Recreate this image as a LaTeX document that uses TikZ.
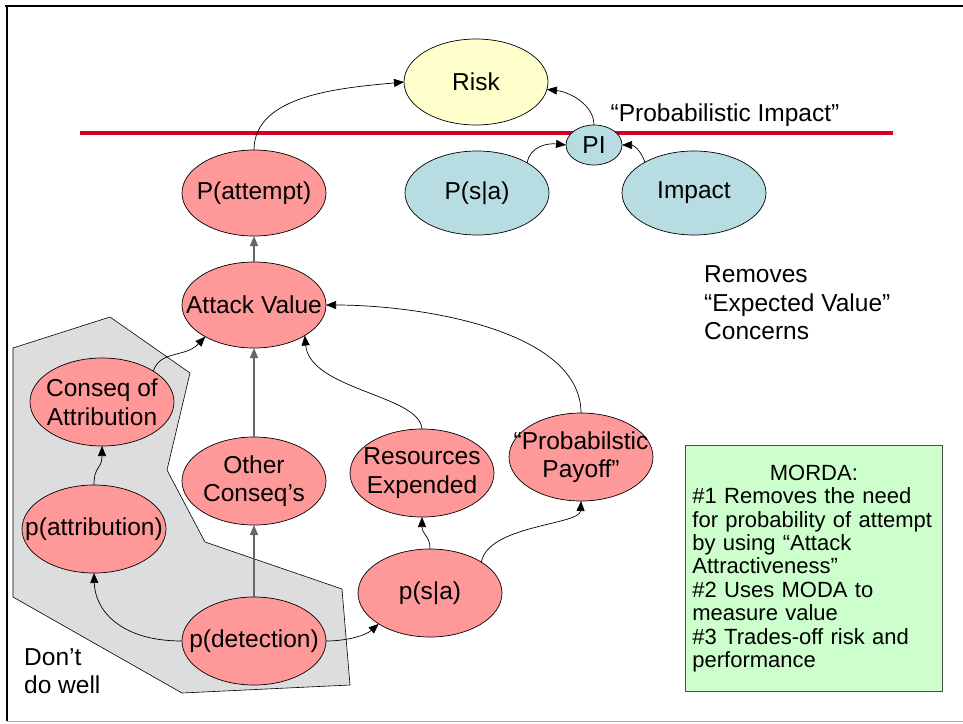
\documentclass[tikz,border=0pt]{standalone}
\usepackage{fontspec}
\setmainfont{Liberation Sans}
\usetikzlibrary{shapes.geometric,arrows.meta}
\definecolor{pinkfill}{RGB}{255,153,153}
\definecolor{tealfill}{RGB}{183,221,226}
\definecolor{yellowfill}{RGB}{255,255,204}
\definecolor{greyfill}{RGB}{221,221,221}
\definecolor{greenfill}{RGB}{204,255,204}
\definecolor{redline}{RGB}{210,0,40}
\newcommand{\nodefont}{\fontsize{24.5}{28.5}\selectfont}
\newcommand{\boxfont}{\fontsize{22}{23.4}\selectfont}
\tikzset{
  ell/.style={ellipse, draw=black, line width=0.7pt, minimum width=144pt, minimum height=88pt, inner sep=0pt, outer sep=0pt},
  rnode/.style={ell, fill=pinkfill},
  bnode/.style={ell, fill=tealfill},
  ynode/.style={ell, fill=yellowfill},
  lbl/.style={font=\nodefont, align=center, inner sep=0pt},
  arr/.style={-{Triangle[length=10pt,width=8pt]}, line width=0.7pt, draw=black},
  sarr/.style={-{Triangle[length=10pt,width=8pt]}, line width=1.3pt, draw=black!60, fill=black},
  plain/.style={font=\nodefont, align=left, inner sep=0pt}
}
\begin{document}
\begin{tikzpicture}[x=1pt,y=-1pt]
\useasboundingbox (0,0) rectangle (963,723);
\fill[white] (0,0) rectangle (963,723);
% frame
\draw[line width=2.5pt] (5,6) -- (963,6);
\draw[line width=2.5pt] (7,5) -- (7,721);
\draw[black!35, line width=1pt] (7,721.5) -- (963,721.5);
% grey region
\draw[fill=greyfill, line width=0.6pt] (13,348) -- (110,317) -- (190,373) -- (167,470) -- (205,542) -- (342,589) -- (350,685) -- (182,693) -- (13,597) -- cycle;
% red line
\draw[line width=3.5pt, redline] (80,133) -- (893,133);
% nodes
\node[ynode, minimum height=86pt, label={[lbl]center:Risk}] (risk) at (476,82) {};
\node[bnode, minimum width=56pt, minimum height=40pt, label={[lbl]center:PI}] (pi) at (594,145) {};
\node[bnode, minimum height=84pt, label={[lbl]center:P(s|a)}] (psaT) at (477,193) {};
\node[bnode, minimum height=84pt, label={[lbl]center:Impact}] (impact) at (694,193) {};
\node[rnode, minimum height=86pt, label={[lbl]center:P(attempt)}] (patt) at (254,193) {};
\node[rnode, minimum height=86pt, label={[lbl]center:Attack Value}] (av) at (254,305) {};
\node[rnode, label={[lbl]center:{Conseq of\\Attribution}}] (coa) at (102,402) {};
\node[rnode, label={[lbl]center:p(attribution)}] (pattr) at (94,529) {};
\node[rnode, label={[lbl]center:{Other\\Conseq’s}}] (oc) at (254,481) {};
\node[rnode, label={[lbl]center:p(detection)}] (pdet) at (254,641) {};
\node[rnode, label={[lbl]center:{Resources\\Expended}}] (res) at (422,473) {};
\node[rnode, label={[lbl]center:{“Probabilstic\\Payoff”}}] (payoff) at (581,457) {};
\node[rnode, label={[lbl]center:p(s|a)}] (psa) at (430,593) {};
% texts
\node[plain] (pitext) at (725,115) {“Probabilistic Impact”};
\node[plain, anchor=west] (removes) at (704,303) {Removes\\“Expected Value”\\Concerns};
\node[plain, anchor=west] (dont) at (24,671) {Don’t\\do well};
\node[draw=black!70, line width=0.8pt, fill=greenfill, anchor=north west, minimum width=257pt, minimum height=246pt, text width=243pt, inner xsep=7pt, inner ysep=0pt, align=left, font=\boxfont] (morda) at (685,445)
{\makebox[\linewidth][c]{MORDA:}\\\#1 Removes the need\\for probability of attempt\\by using “Attack\\Attractiveness”\\\#2 Uses MODA to\\measure value\\\#3 Trades-off risk and\\performance};
% connectors
\draw[arr] (patt.north) .. controls (254,95) and (340,88) .. (risk.west);
\draw[arr] (pi.north) .. controls (594,105) and (570,92) .. (risk.-6);
\draw[arr] (psaT.31) .. controls (530,146) and (548,143) .. (pi.west);
\draw[arr] (impact.148) .. controls (641,150) and (633,145) .. (pi.east);
\draw[sarr] (av.north) -- (patt.south);
\draw[arr] (coa.31) .. controls (160,350) and (185,358) .. (av.213);
\draw[sarr] (oc.north) -- (av.south);
\draw[arr] (res.north) .. controls (420,395) and (310,390) .. (av.-31);
\draw[arr] (payoff.north) .. controls (581,330) and (420,305) .. (av.east);
\draw[sarr] (pdet.north) -- (oc.south);
\draw[arr] (pdet.west) .. controls (120,641) and (95,610) .. (pattr.south);
\draw[arr] (pattr.north) .. controls (94,465) and (102,470) .. (coa.south);
\draw[arr] (pdet.east) .. controls (345,641) and (365,636) .. (psa.211);
\draw[arr] (psa.north) .. controls (430,535) and (422,535) .. (res.south);
\draw[arr] (psa.31) .. controls (488,525) and (580,525) .. (payoff.south);
\end{tikzpicture}
\end{document}
